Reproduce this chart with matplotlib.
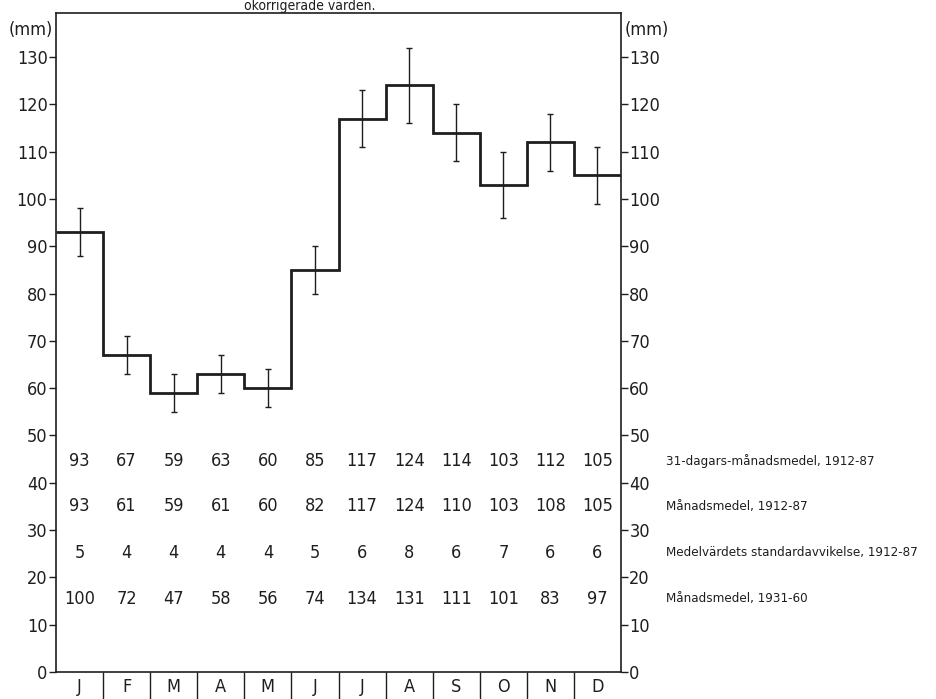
import matplotlib
matplotlib.use('Agg')
import matplotlib.pyplot as plt
import numpy as np

months = ['J', 'F', 'M', 'A', 'M', 'J', 'J', 'A', 'S', 'O', 'N', 'D']
mean_31day = [93, 67, 59, 63, 60, 85, 117, 124, 114, 103, 112, 105]
mean_monthly = [93, 61, 59, 61, 60, 82, 117, 124, 110, 103, 108, 105]
std_of_mean = [5, 4, 4, 4, 4, 5, 6, 8, 6, 7, 6, 6]
mean_1931_60 = [100, 72, 47, 58, 56, 74, 134, 131, 111, 101, 83, 97]

row_labels = ['31-dagars-månadsmedel, 1912-87',
              'Månadsmedel, 1912-87',
              'Medelvärdets standardavvikelse, 1912-87',
              'Månadsmedel, 1931-60']
row_levels = [44.7, 35.0, 25.2, 15.5]

ink = '#1e1e1e'
font = dict(family='DejaVu Sans', fontstretch='condensed', color=ink)

fig = plt.figure(figsize=(9.36, 6.99), dpi=100)
ax = fig.add_axes([0.0598, 0.0386, 0.6037, 0.9428])

edges = np.arange(13)
centers = edges[:-1] + 0.5

ax.stairs(mean_31day, edges, color=ink, lw=2.0, baseline=None)
ax.errorbar(centers, mean_31day, yerr=std_of_mean, fmt='none',
            ecolor=ink, elinewidth=1.0, capsize=2.2, capthick=1.0)

rows = [mean_31day, mean_monthly, std_of_mean, mean_1931_60]
for level, row, label in zip(row_levels, rows, row_labels):
    for x, v in zip(centers, row):
        ax.text(x, level, str(v), ha='center', va='center', fontsize=13, **font)
    ax.text(1.08, level, label, transform=ax.get_yaxis_transform(),
            ha='left', va='center', fontsize=9.5, **font)

ax.set_xlim(0, 12)
ax.set_ylim(0, 139.3)

# left and right mm scales
ax.set_yticks(np.arange(0, 131, 10))
ax.tick_params(axis='y', which='major', direction='out', length=5, width=1,
               color=ink, labelsize=13, pad=1, left=True, right=True,
               labelleft=True, labelright=True, labelcolor=ink)
for lab in ax.yaxis.get_ticklabels() + ax.yaxis.get_ticklabels(which='major'):
    lab.set_fontstretch('condensed')
for t in ax.yaxis.get_major_ticks():
    t.label2.set_fontstretch('condensed')

# month separators below the axis, letters centred between them
ax.set_xticks(edges[1:-1])
ax.set_xticklabels([])
ax.tick_params(axis='x', which='major', direction='out', length=20, width=1, color=ink)
ax.set_xticks(centers, minor=True)
ax.set_xticklabels(months, minor=True)
ax.tick_params(axis='x', which='minor', length=0, labelsize=13, pad=4, labelcolor=ink)
for lab in ax.get_xticklabels(minor=True):
    lab.set_fontstretch('condensed')

for sp in ax.spines.values():
    sp.set_color(ink)
    sp.set_linewidth(1.2)

ax.text(-0.005, 135.8, '(mm)', ha='right', va='center', fontsize=13,
        transform=ax.get_yaxis_transform(), **font)
ax.text(1.007, 135.8, '(mm)', ha='left', va='center', fontsize=13,
        transform=ax.get_yaxis_transform(), **font)

fig.text(310 / 936, 1 - 10 / 699, 'okorrigerade värden.', ha='center', va='baseline',
         fontsize=10, **font)

fig.savefig('out.png', dpi=100, facecolor='white')
